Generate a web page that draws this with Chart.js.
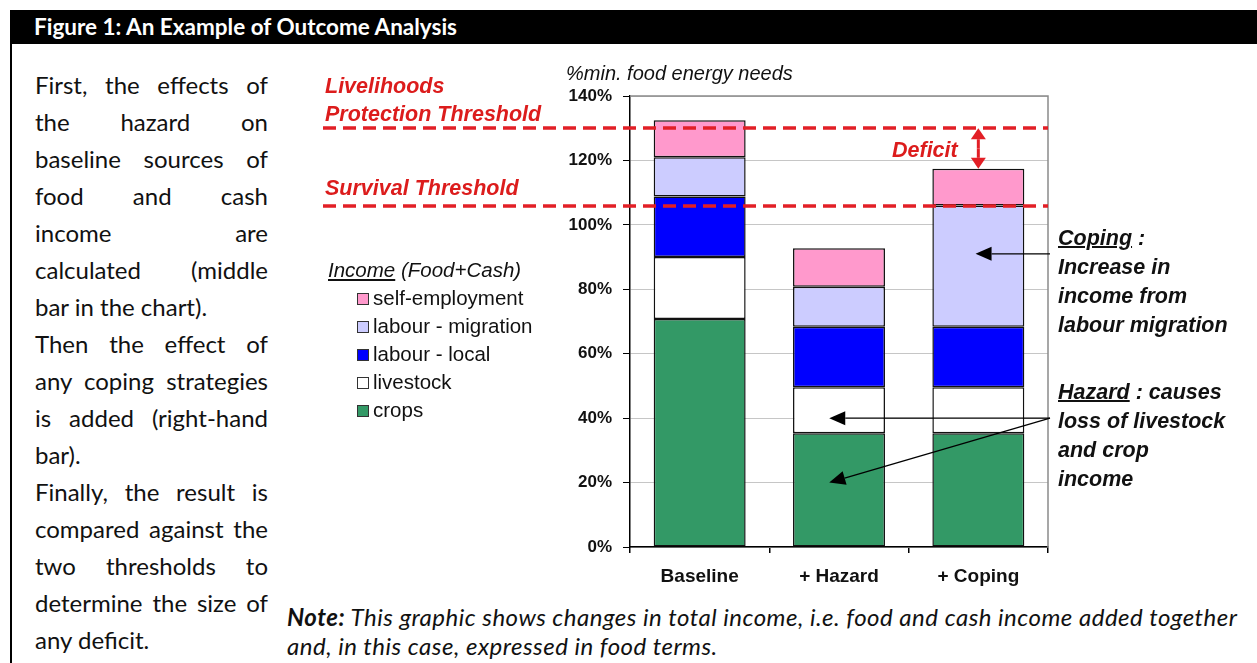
<!DOCTYPE html>
<html lang="en">
<head>
  <meta charset="UTF-8">
  <title>Figure 1: An Example of Outcome Analysis</title>
  <script src="https://cdn.jsdelivr.net/npm/chart.js"></script>
  <style>
    body { margin: 0; background: #fff; width: 1257px; height: 663px; position: relative; overflow: hidden; }
    .abs { position: absolute; white-space: nowrap; }
    #header { left: 10px; top: 10px; width: 1247px; height: 34px; background: #000; }
    #header span { position: absolute; left: 24px; top: 3px; line-height: 33px; color: #fff; font: bold 22.5px Lato, sans-serif; }
    #frame { left: 10px; top: 44px; width: 2px; height: 619px; background: #000; }
    #intro { left: 35px; top: 66px; width: 233px; font: 24px Lato, sans-serif; color: #111; }
    #intro div { line-height: 37px; height: 37px; white-space: nowrap; }
    #intro .j { text-align: justify; text-align-last: justify; }
    #chart { position: absolute; left: 280px; top: 50px; }
    .red { color: #dc1c1c; font: italic bold 21.5px "Liberation Sans", Arial, sans-serif; line-height: 28px; }
    .note { font: bold italic 21.5px "Liberation Sans", Arial, sans-serif; color: #111; line-height: 29px; }
    .note u { text-decoration-thickness: 2px; }
    #ytitle { left: 566px; top: 61px; font: italic 20px "Liberation Sans", Arial, sans-serif; color: #111; line-height: 24px; }
    #legend { left: 328px; top: 256px; font: 20.5px "Liberation Sans", Arial, sans-serif; color: #111; }
    #legend .head { font-style: italic; line-height: 28px; height: 28px; }
    #legend .item { line-height: 28px; height: 28px; padding-left: 45px; position: relative; }
    #legend .sw { position: absolute; left: 29px; top: 9px; width: 10px; height: 10px; border: 1px solid #333; }
    #foot { left: 287px; top: 602px; font: italic 24px Lato, sans-serif; letter-spacing: 0.5px; color: #111; line-height: 29px; }
  </style>
</head>
<body>
  <div id="header" class="abs"><span>Figure 1: An Example of Outcome Analysis</span></div>
  <div id="frame" class="abs"></div>

  <div id="intro" class="abs">
    <div class="j">First, the effects of</div>
    <div class="j">the hazard on</div>
    <div class="j">baseline sources of</div>
    <div class="j">food and cash</div>
    <div class="j">income are</div>
    <div class="j">calculated (middle</div>
    <div>bar in the chart).</div>
    <div class="j">Then the effect of</div>
    <div class="j">any coping strategies</div>
    <div class="j">is added (right-hand</div>
    <div>bar).</div>
    <div class="j">Finally, the result is</div>
    <div class="j">compared against the</div>
    <div class="j">two thresholds to</div>
    <div class="j">determine the size of</div>
    <div>any deficit.</div>
  </div>

  <canvas id="chart" width="977" height="550"></canvas>

  <div class="abs red" style="left:325px; top:72px;">Livelihoods<br>Protection Threshold</div>
  <div class="abs red" style="left:325px; top:174px;">Survival Threshold</div>
  <div class="abs red" style="left:892px; top:136px;">Deficit</div>
  <div id="ytitle" class="abs">%min. food energy needs</div>
  <div id="legend" class="abs"></div>
  <div class="abs note" style="left:1058px; top:224px;"><u>Coping</u> :<br>Increase in<br>income from<br>labour migration</div>
  <div class="abs note" style="left:1058px; top:378px;"><u>Hazard</u> : causes<br>loss of livestock<br>and crop<br>income</div>
  <div id="foot" class="abs"><b>Note:</b> This graphic shows changes in total income, i.e. food and cash income added together<br>and, in this case, expressed in food terms.</div>

  <script>
    // income sources, % of minimum food energy needs
    const scenarios = ['Baseline', '+ Hazard', '+ Coping'];
    const crops = [70.8, 35.3, 35.3];
    const livestock = [19.2, 14.3, 14.3];
    const labourLocal = [18.8, 18.8, 18.8];
    const labourMigration = [12.2, 12.4, 37.6];
    const selfEmployment = [11.5, 11.9, 11.4];

    const sourceNames = ['crops', 'livestock', 'labour - local', 'labour - migration', 'self-employment'];
    const sourceColors = ['#339966', '#ffffff', '#0000ff', '#ccccff', '#ff99cc'];

    // thresholds (% of needs)
    const protectionThreshold = 130;
    const survivalThreshold = 106;

    // pointer arrows: [from value, to scenario index, to value]
    const copingArrows = [[91, 1.98, 91]];
    const hazardArrows = [[40, 0.93, 40], [40, 0.93, 20]];

    const series = [crops, livestock, labourLocal, labourMigration, selfEmployment];

    // legend, top entry is the top of the stack
    const legend = document.getElementById('legend');
    legend.innerHTML = '<div class="head"><u>Income</u> (Food+Cash)</div>';
    for (let i = sourceNames.length - 1; i >= 0; i--) {
      legend.innerHTML += '<div class="item"><span class="sw" style="background:' + sourceColors[i] + '"></span>' + sourceNames[i] + '</div>';
    }

    function arrow(ctx, x1, y1, x2, y2, len, half, color, width) {
      const a = Math.atan2(y2 - y1, x2 - x1);
      const bx = x2 - len * Math.cos(a), by = y2 - len * Math.sin(a);
      ctx.strokeStyle = color;
      ctx.fillStyle = color;
      ctx.lineWidth = width;
      ctx.setLineDash([]);
      ctx.beginPath();
      ctx.moveTo(x1, y1);
      ctx.lineTo(bx, by);
      ctx.stroke();
      ctx.beginPath();
      ctx.moveTo(x2, y2);
      ctx.lineTo(bx + half * Math.sin(a), by - half * Math.cos(a));
      ctx.lineTo(bx - half * Math.sin(a), by + half * Math.cos(a));
      ctx.closePath();
      ctx.fill();
    }

    const overlay = {
      id: 'overlay',
      afterDatasetsDraw(chart) {
        const { ctx, chartArea: area, scales: { x, y } } = chart;
        ctx.save();

        // plot frame, top and right
        ctx.strokeStyle = '#8a8a8a';
        ctx.lineWidth = 1.5;
        ctx.beginPath();
        ctx.moveTo(area.left, area.top);
        ctx.lineTo(area.right, area.top);
        ctx.lineTo(area.right, area.bottom);
        ctx.stroke();

        // threshold lines run out under their labels
        ctx.strokeStyle = '#e21f26';
        ctx.lineWidth = 3.5;
        ctx.setLineDash([13, 7]);
        for (const t of [protectionThreshold, survivalThreshold]) {
          const py = Math.round(y.getPixelForValue(t));
          ctx.beginPath();
          ctx.moveTo(43, py);
          ctx.lineTo(area.right, py);
          ctx.stroke();
        }

        // deficit between protection threshold and coping total
        const last = scenarios.length - 1;
        const copingTotal = series.reduce((s, d) => s + d[last], 0);
        const dx = x.getPixelForValue(last);
        const top = y.getPixelForValue(protectionThreshold);
        const bottom = y.getPixelForValue(copingTotal);
        const mid = (top + bottom) / 2;
        arrow(ctx, dx, mid, dx, top, 11, 7.5, '#e21f26', 3);
        arrow(ctx, dx, mid, dx, bottom, 11, 7.5, '#e21f26', 3);

        // pointers from the side notes
        const startX = area.right + 2;
        for (const [v0, i, v1] of copingArrows.concat(hazardArrows)) {
          arrow(ctx, startX, y.getPixelForValue(v0), x.getPixelForValue(i), y.getPixelForValue(v1), 16, 7, '#000', 1.3);
        }
        ctx.restore();
      }
    };

    const axisFont = { family: '"Liberation Sans", Arial, sans-serif', weight: 'bold' };

    new Chart(document.getElementById('chart'), {
      type: 'bar',
      data: {
        labels: scenarios,
        datasets: series.map((data, i) => ({
          label: sourceNames[i],
          data,
          backgroundColor: sourceColors[i],
          borderColor: '#111',
          borderWidth: 1.5,
          borderSkipped: false,
          categoryPercentage: 1,
          barPercentage: 0.66
        }))
      },
      options: {
        responsive: false,
        animation: false,
        layout: { padding: { left: 275, right: 209, top: 46, bottom: 13 } },
        plugins: { legend: { display: false }, tooltip: { enabled: false } },
        scales: {
          x: {
            stacked: true,
            grid: { offset: true, drawOnChartArea: false, tickLength: 6, tickColor: '#000', lineWidth: 1.5 },
            border: { color: '#000', width: 1.5 },
            ticks: { font: { ...axisFont, size: 19 }, color: '#111', padding: 12 },
            afterFit(scale) { scale.height = 40; }
          },
          y: {
            stacked: true,
            min: 0,
            max: 140,
            ticks: { stepSize: 20, callback: v => v + '%', font: { ...axisFont, size: 17 }, color: '#111', padding: 11 },
            grid: { color: '#c6c6c6', tickColor: '#000', tickLength: 7 },
            border: { color: '#000', width: 1.5 },
            afterFit(scale) { scale.width = 75; }
          }
        }
      },
      plugins: [overlay]
    });
  </script>
</body>
</html>
